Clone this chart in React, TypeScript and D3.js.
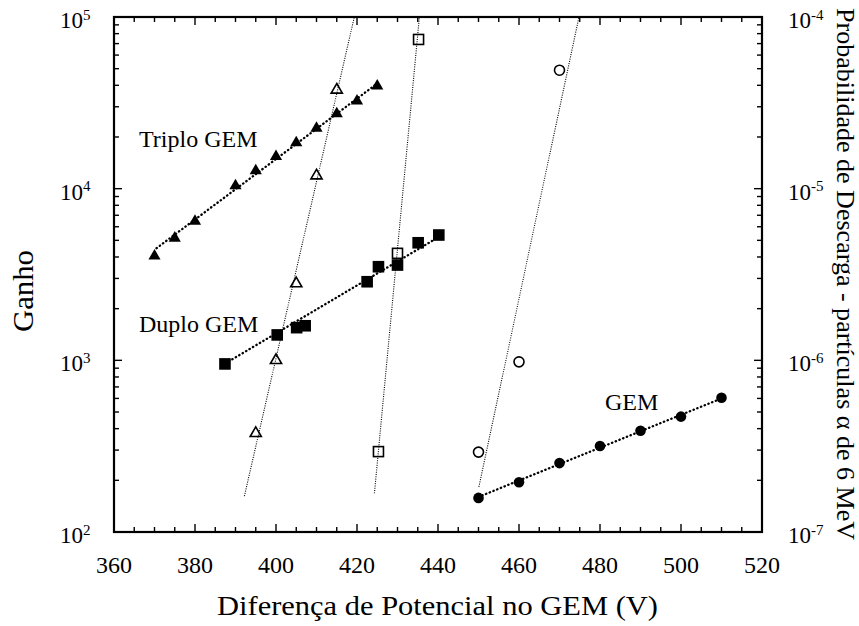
import React from "react";
import * as d3 from "d3";

// ---- data ----
const xTickValues = [360, 380, 400, 420, 440, 460, 480, 500, 520];
const leftExponents = ["2", "3", "4", "5"];
const rightExponents = ["-7", "-6", "-5", "-4"];

// Gain (left axis)
const triploV = [370, 375, 380, 390, 395, 400, 405, 410, 415, 420, 425];
const triploGain = [4050, 5150, 6450, 10400, 12700, 15400, 18500, 22500, 27300, 32400, 39600];
const duploV = [387.4, 400.3, 405.1, 407.2, 422.5, 425.3, 430, 435.1, 440.2];
const duploGain = [953, 1406, 1550, 1590, 2870, 3510, 3590, 4840, 5370];
const gemV = [450, 460, 470, 480, 490, 500, 510];
const gemGain = [158, 195, 252, 317, 389, 470, 605];

// Discharge probability (right axis)
const triploDisV = [395, 400, 405, 410, 415];
const triploDisP = [3.76e-7, 1.0e-6, 2.8e-6, 1.19e-5, 3.76e-5];
const duploDisV = [425.3, 430, 435.2];
const duploDisP = [2.94e-7, 4.2e-6, 7.4e-5];
const gemDisV = [450, 460, 470];
const gemDisP = [2.92e-7, 9.8e-7, 4.9e-5];

// Fit lines
const triploFitV = [370.5, 425];
const triploFitG = [4500, 41000];
const duploFitV = [387.5, 440];
const duploFitG = [960, 5200];
const gemFitV = [450, 510];
const gemFitG = [160, 600];
const triploDisFitV = [392.2, 420];
const triploDisFitP = [1.62e-7, 1.17e-4];
const duploDisFitV = [424.3, 436];
const duploDisFitP = [1.68e-7, 1.41e-4];
const gemDisFitV = [450.1, 475];
const gemDisFitP = [1.83e-7, 1.05e-4];

const W = 859;
const H = 626;
const L = 114, R = 762, T = 17, B = 532;
const FONT = "'Liberation Serif', 'Times New Roman', serif";

export default function App() {
  const x = d3.scaleLinear().domain([360, 520]).range([L, R]);
  const yL = d3.scaleLog().domain([1e2, 1e5]).range([B, T]);
  const yR = d3.scaleLog().domain([1e-7, 1e-4]).range([B, T]);

  const lineL = (vs: number[], gs: number[]) =>
    d3.line<number>().x((d) => x(vs[d])).y((d) => yL(gs[d]))(vs.map((_, i) => i)) || "";
  const lineR = (vs: number[], ps: number[]) =>
    d3.line<number>().x((d) => x(vs[d])).y((d) => yR(ps[d]))(vs.map((_, i) => i)) || "";

  const xMinor = d3.range(360, 521, 5);
  const leftMajor = [1e2, 1e3, 1e4, 1e5];
  const minors: number[] = [];
  for (const dec of [1e2, 1e3, 1e4]) for (let m = 2; m <= 9; m++) minors.push(dec * m);

  const triFilled = d3.symbol(d3.symbolTriangle, 64)() || "";
  const triOpen = d3.symbol(d3.symbolTriangle, 54)() || "";

  const thick = { stroke: "#000", strokeWidth: 2.3, strokeDasharray: "0.4 3.6", strokeLinecap: "round" as const, fill: "none" };
  const thin = { stroke: "#000", strokeWidth: 1.1, strokeDasharray: "1 1.3", fill: "none" };

  return (
    <svg
      width={W}
      height={H}
      style={{ position: "absolute", left: 0, top: 0, background: "#fff" }}
      fontFamily={FONT}
    >
      <defs>
        <clipPath id="plotclip">
          <rect x={L} y={T} width={R - L} height={B - T} />
        </clipPath>
      </defs>
      <rect x={0} y={0} width={W} height={H} fill="#fff" />

      {/* fit lines */}
      <g clipPath="url(#plotclip)">
        <path d={lineR(triploDisFitV, triploDisFitP)} {...thin} />
        <path d={lineR(duploDisFitV, duploDisFitP)} {...thin} />
        <path d={lineR(gemDisFitV, gemDisFitP)} {...thin} />
        <path d={lineL(triploFitV, triploFitG)} {...thick} />
        <path d={lineL(duploFitV, duploFitG)} {...thick} />
        <path d={lineL(gemFitV, gemFitG)} {...thick} />
      </g>

      {/* open markers (discharge probability) */}
      {triploDisV.map((v, i) => (
        <path key={"to" + i} d={triOpen} transform={`translate(${x(v)},${yR(triploDisP[i])})`}
          fill="none" stroke="#000" strokeWidth={1.6} />
      ))}
      {duploDisV.map((v, i) => (
        <rect key={"so" + i} x={x(v) - 5} y={yR(duploDisP[i]) - 5} width={10} height={10}
          fill="none" stroke="#000" strokeWidth={1.6} />
      ))}
      {gemDisV.map((v, i) => (
        <circle key={"co" + i} cx={x(v)} cy={yR(gemDisP[i])} r={5}
          fill="none" stroke="#000" strokeWidth={1.6} />
      ))}

      {/* filled markers (gain) */}
      {triploV.map((v, i) => (
        <path key={"tf" + i} d={triFilled} transform={`translate(${x(v)},${yL(triploGain[i])})`} fill="#000" />
      ))}
      {duploV.map((v, i) => (
        <rect key={"sf" + i} x={x(v) - 5.8} y={yL(duploGain[i]) - 5.8} width={11.6} height={11.6} fill="#000" />
      ))}
      {gemV.map((v, i) => (
        <circle key={"cf" + i} cx={x(v)} cy={yL(gemGain[i])} r={5.3} fill="#000" />
      ))}

      {/* ticks */}
      <g stroke="#000" strokeWidth={1.4}>
        {xMinor.map((v) => {
          const len = v % 20 === 0 ? 8 : 5;
          return (
            <g key={"xt" + v}>
              <line x1={x(v)} x2={x(v)} y1={B} y2={B - len} />
              <line x1={x(v)} x2={x(v)} y1={T} y2={T + len} />
            </g>
          );
        })}
        {leftMajor.map((v) => (
          <g key={"ym" + v}>
            <line x1={L} x2={L + 8} y1={yL(v)} y2={yL(v)} />
            <line x1={R} x2={R - 8} y1={yL(v)} y2={yL(v)} />
          </g>
        ))}
        {minors.map((v) => (
          <g key={"yn" + v}>
            <line x1={L} x2={L + 5} y1={yL(v)} y2={yL(v)} />
            <line x1={R} x2={R - 5} y1={yL(v)} y2={yL(v)} />
          </g>
        ))}
      </g>

      {/* frame */}
      <rect x={L} y={T} width={R - L} height={B - T} fill="none" stroke="#000" strokeWidth={2.2} />

      {/* x tick labels */}
      {xTickValues.map((v) => (
        <text key={"xl" + v} x={x(v)} y={573} textAnchor="middle" fontSize={24}>{v}</text>
      ))}

      {/* left tick labels */}
      {leftMajor.map((v, i) => (
        <text key={"ll" + v} x={60} y={yL(v) + 11} fontSize={23}>
          10<tspan dy={-8.5} fontSize={15}>{leftExponents[i]}</tspan>
        </text>
      ))}

      {/* right tick labels */}
      {leftMajor.map((v, i) => (
        <text key={"rl" + v} x={788} y={yL(v) + 11} fontSize={23}>
          10<tspan dy={-8.5} fontSize={15}>{rightExponents[i]}</tspan>
        </text>
      ))}

      {/* series labels */}
      <text x={139} y={147} fontSize={24}>Triplo GEM</text>
      <text x={139} y={332} fontSize={24}>Duplo GEM</text>
      <text x={605} y={410} fontSize={24}>GEM</text>

      {/* axis titles */}
      <text x={437.5} y={615} textAnchor="middle" fontSize={28} textLength={441} lengthAdjust="spacingAndGlyphs">
        Diferença de Potencial no GEM (V)
      </text>
      <text transform="translate(33,291) rotate(-90)" textAnchor="middle" fontSize={29} textLength={82} lengthAdjust="spacingAndGlyphs">
        Ganho
      </text>
      <text transform="translate(837,274) rotate(90)" textAnchor="middle" fontSize={25} textLength={532} lengthAdjust="spacingAndGlyphs">
        Probabilidade de Descarga - partículas α de 6 MeV
      </text>
    </svg>
  );
}
